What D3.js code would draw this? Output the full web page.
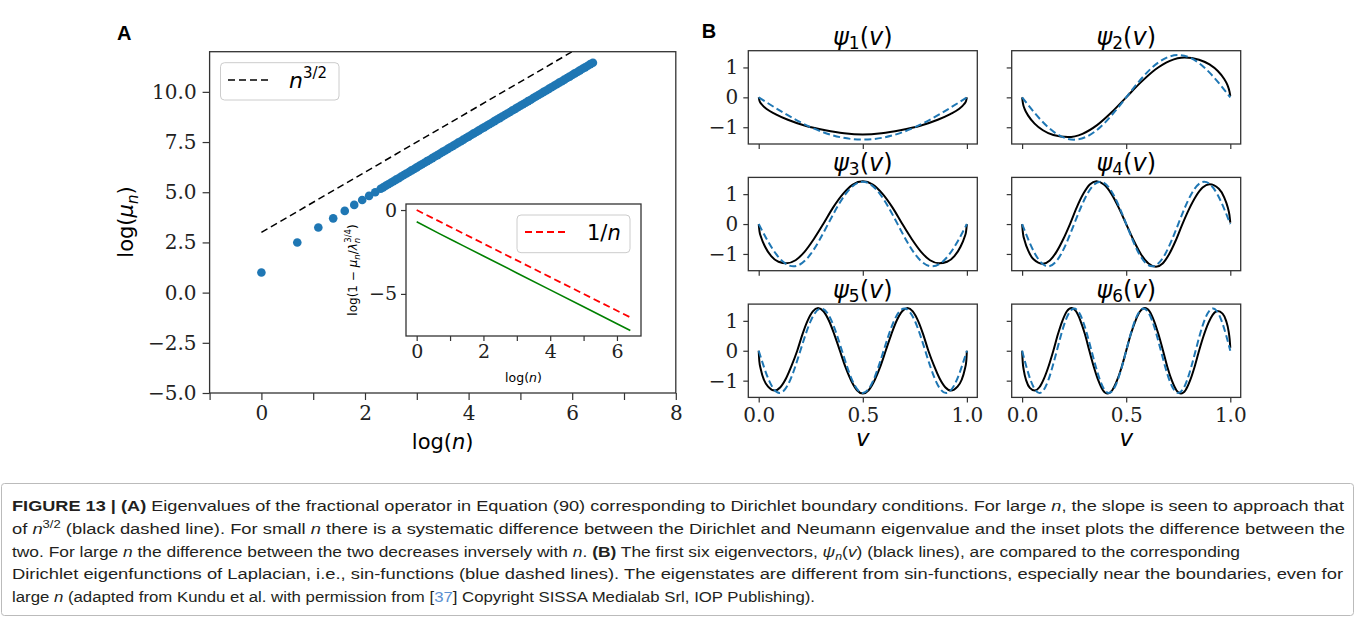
<!DOCTYPE html>
<html>
<head>
<meta charset="utf-8">
<script src="https://cdn.jsdelivr.net/npm/d3@7"></script>
<style>
body { margin: 0; background: #fff; }
.tick text { font-family: "DejaVu Serif", serif; fill: #222; }
.tick line { stroke: #333; stroke-width: 1.2; }
</style>
</head>
<body>
<script>
// ---- panel A : eigenvalues, log(mu_n) against log(n)
var mainLogN = [0, 0.693, 1.099, 1.386, 1.609, 1.792, 1.946, 2.079, 2.197, 2.303,
	2.35, 2.40, 2.45, 2.50, 2.55, 2.60, 2.65, 2.70, 2.75, 2.80, 2.85, 2.90, 2.95, 3.00,
	3.05, 3.10, 3.15, 3.20, 3.25, 3.30, 3.35, 3.40, 3.45, 3.50, 3.55, 3.60, 3.65, 3.70,
	3.75, 3.80, 3.85, 3.90, 3.95, 4.00, 4.05, 4.10, 4.15, 4.20, 4.25, 4.30, 4.35, 4.40,
	4.45, 4.50, 4.55, 4.60, 4.65, 4.70, 4.75, 4.80, 4.85, 4.90, 4.95, 5.00, 5.05, 5.10,
	5.15, 5.20, 5.25, 5.30, 5.35, 5.40, 5.45, 5.50, 5.55, 5.60, 5.65, 5.70, 5.75, 5.80,
	5.85, 5.90, 5.95, 6.00, 6.05, 6.10, 6.15, 6.20, 6.25, 6.30, 6.35, 6.40];
var mainLogMu = [1.0, 2.5, 3.24, 3.7, 4.07, 4.37, 4.61, 4.82, 5.0, 5.17,
	5.24, 5.32, 5.40, 5.47, 5.55, 5.63, 5.70, 5.78, 5.86, 5.93, 6.01, 6.09, 6.16, 6.24,
	6.32, 6.39, 6.47, 6.55, 6.62, 6.70, 6.78, 6.85, 6.93, 7.01, 7.08, 7.16, 7.24, 7.31,
	7.39, 7.47, 7.54, 7.62, 7.70, 7.77, 7.85, 7.93, 8.00, 8.08, 8.16, 8.23, 8.31, 8.39,
	8.46, 8.54, 8.62, 8.69, 8.77, 8.85, 8.92, 9.00, 9.08, 9.15, 9.23, 9.31, 9.38, 9.46,
	9.54, 9.61, 9.69, 9.77, 9.84, 9.92, 10.00, 10.07, 10.15, 10.23, 10.30, 10.38, 10.46, 10.53,
	10.61, 10.69, 10.76, 10.84, 10.92, 10.99, 11.07, 11.15, 11.22, 11.30, 11.38, 11.45];
var refLogN = [0, 6.4];          // n^{3/2} guide
var refLogMu = [3.0, 12.6];
var xTicksA = [-1, 0, 1, 2, 3, 4, 5, 6, 7, 8];
var yTicksA = [-5, -2.5, 0, 2.5, 5, 7.5, 10];

// ---- inset : log(1 - mu_n / lambda_n^{3/4})
var insetLogN = [0, 0.693, 1.099, 1.386, 2, 3, 4, 5, 6, 6.4];
var insetDiff = [-0.7, -1.42, -1.83, -2.12, -2.74, -3.75, -4.76, -5.77, -6.78, -7.18];
var invLogN = [0, 6.4];          // 1/n guide
var invVal = [0, -6.4];
var xTicksI = [0, 1, 2, 3, 4, 5, 6];
var yTicksI = [-5, 0];

// ---- panel B : eigenvectors (black) and sin functions (blue dashed)
var blue1 = [[0,0],[0.25,-1],[0.5,-1.414],[0.75,-1],[1,0]];
var blue2 = [[0,0],[0.125,-1],[0.25,-1.414],[0.375,-1],[0.5,0],[0.625,1],[0.75,1.414],[0.875,1],[1,0]];
var blue3 = [[0,0],[0.083,-1],[0.167,-1.414],[0.25,-1],[0.333,0],[0.417,1],[0.5,1.414],[0.583,1],
	[0.667,0],[0.75,-1],[0.833,-1.414],[0.917,-1],[1,0]];
var blue4 = [[0,0],[0.0625,-1],[0.125,-1.414],[0.1875,-1],[0.25,0],[0.3125,1],[0.375,1.414],[0.4375,1],
	[0.5,0],[0.5625,-1],[0.625,-1.414],[0.6875,-1],[0.75,0],[0.8125,1],[0.875,1.414],[0.9375,1],[1,0]];
var blue5 = [[0,0],[0.05,-1],[0.1,-1.414],[0.15,-1],[0.2,0],[0.25,1],[0.3,1.414],[0.35,1],[0.4,0],
	[0.45,-1],[0.5,-1.414],[0.55,-1],[0.6,0],[0.65,1],[0.7,1.414],[0.75,1],[0.8,0],[0.85,-1],
	[0.9,-1.414],[0.95,-1],[1,0]];
var blue6 = [[0,0],[0.0417,-1],[0.0833,-1.414],[0.125,-1],[0.1667,0],[0.2083,1],[0.25,1.414],[0.2917,1],
	[0.3333,0],[0.375,-1],[0.4167,-1.414],[0.4583,-1],[0.5,0],[0.5417,1],[0.5833,1.414],[0.625,1],
	[0.6667,0],[0.7083,-1],[0.75,-1.414],[0.7917,-1],[0.8333,0],[0.875,1],[0.9167,1.414],[0.9583,1],[1,0]];

var black1 = [[0,0],[0.004,-0.12],[0.015,-0.24],[0.04,-0.4],[0.08,-0.56],[0.14,-0.75],[0.22,-0.94],
	[0.32,-1.1],[0.41,-1.2],[0.5,-1.24],[0.59,-1.2],[0.68,-1.1],[0.78,-0.94],[0.86,-0.75],[0.92,-0.56],
	[0.96,-0.4],[0.985,-0.24],[0.996,-0.12],[1,0]];
var black2 = [[0,0],[0.004,-0.2],[0.013,-0.4],[0.03,-0.62],[0.06,-0.88],[0.1,-1.1],[0.15,-1.26],
	[0.22,-1.33],[0.29,-1.22],[0.36,-0.93],[0.43,-0.5],[0.5,0],[0.57,0.5],[0.64,0.93],[0.71,1.22],
	[0.78,1.33],[0.85,1.26],[0.9,1.1],[0.94,0.88],[0.97,0.62],[0.987,0.4],[0.996,0.2],[1,0.05]];
var black3 = [[0,0],[0.004,-0.25],[0.012,-0.45],[0.03,-0.75],[0.06,-1.07],[0.095,-1.26],[0.133,-1.31],
	[0.177,-1.21],[0.22,-0.93],[0.265,-0.5],[0.31,0],[0.357,0.55],[0.405,1.01],[0.452,1.32],[0.5,1.43],
	[0.548,1.32],[0.595,1.01],[0.643,0.55],[0.69,0],[0.735,-0.5],[0.78,-0.93],[0.823,-1.21],[0.867,-1.31],
	[0.905,-1.26],[0.94,-1.07],[0.97,-0.75],[0.988,-0.45],[0.996,-0.25],[1,0]];
var black4 = [[0,0],[0.004,-0.3],[0.012,-0.55],[0.03,-0.9],[0.055,-1.18],[0.1,-1.33],[0.133,-1.22],
	[0.165,-0.93],[0.198,-0.5],[0.23,0],[0.262,0.55],[0.294,1.01],[0.325,1.32],[0.357,1.43],[0.393,1.32],
	[0.429,1.01],[0.464,0.55],[0.5,0],[0.536,-0.55],[0.571,-1.01],[0.607,-1.32],[0.643,-1.43],[0.675,-1.32],
	[0.706,-1.01],[0.738,-0.55],[0.77,0],[0.802,0.5],[0.835,0.93],[0.867,1.22],[0.9,1.33],[0.945,1.18],
	[0.97,0.9],[0.988,0.55],[0.996,0.3],[1,0.05]];
var black5 = [[0,0],[0.003,-0.35],[0.01,-0.62],[0.025,-0.97],[0.045,-1.2],[0.077,-1.33],[0.104,-1.22],
	[0.131,-0.93],[0.158,-0.5],[0.185,0],[0.21,0.55],[0.235,1.01],[0.26,1.32],[0.285,1.43],[0.311,1.32],
	[0.337,1.01],[0.363,0.55],[0.39,0],[0.417,-0.55],[0.445,-1.01],[0.472,-1.32],[0.5,-1.43],[0.528,-1.32],
	[0.555,-1.01],[0.583,-0.55],[0.61,0],[0.637,0.55],[0.663,1.01],[0.689,1.32],[0.715,1.43],[0.74,1.32],
	[0.765,1.01],[0.79,0.55],[0.815,0],[0.842,-0.5],[0.869,-0.93],[0.896,-1.22],[0.923,-1.33],[0.955,-1.2],
	[0.975,-0.97],[0.99,-0.62],[0.997,-0.35],[1,0]];
var black6 = [[0,0],[0.003,-0.38],[0.008,-0.65],[0.02,-1.0],[0.037,-1.24],[0.061,-1.33],[0.083,-1.22],
	[0.105,-0.93],[0.128,-0.5],[0.15,0],[0.172,0.55],[0.194,1.01],[0.215,1.32],[0.237,1.43],[0.259,1.32],
	[0.28,1.01],[0.302,0.55],[0.323,0],[0.345,-0.55],[0.367,-1.01],[0.388,-1.32],[0.41,-1.43],[0.433,-1.32],
	[0.455,-1.01],[0.478,-0.55],[0.5,0],[0.522,0.55],[0.545,1.01],[0.567,1.32],[0.59,1.43],[0.612,1.32],
	[0.633,1.01],[0.655,0.55],[0.677,0],[0.698,-0.55],[0.72,-1.01],[0.741,-1.32],[0.763,-1.43],[0.785,-1.32],
	[0.806,-1.01],[0.828,-0.55],[0.85,0],[0.872,0.5],[0.895,0.93],[0.917,1.22],[0.939,1.33],[0.963,1.24],
	[0.98,1.0],[0.992,0.65],[0.997,0.38],[1,0.1]];
var blueSeries = [blue1, blue2, blue3, blue4, blue5, blue6];
var blackSeries = [black1, black2, black3, black4, black5, black6];
var xTicksB = [0, 0.5, 1];
var yTicksB = [-1, 0, 1];

// ---- caption (one array per printed line)
var captionLines = [
	[{t:'FIGURE 13 | (A)', b:1}, {t:' Eigenvalues of the fractional operator in Equation (90) corresponding to Dirichlet boundary conditions. For large '}, {t:'n', i:1}, {t:', the slope is seen to approach that'}],
	[{t:'of '}, {t:'n', i:1}, {t:'3/2', sup:1}, {t:' (black dashed line). For small '}, {t:'n', i:1}, {t:' there is a systematic difference between the Dirichlet and Neumann eigenvalue and the inset plots the difference between the'}],
	[{t:'two. For large '}, {t:'n', i:1}, {t:' the difference between the two decreases inversely with '}, {t:'n', i:1}, {t:'. '}, {t:'(B)', b:1}, {t:' The first six eigenvectors, '}, {t:'\u03c8', i:1}, {t:'n', i:1, sub:1}, {t:'('}, {t:'v', i:1}, {t:') (black lines), are compared to the corresponding'}],
	[{t:'Dirichlet eigenfunctions of Laplacian, i.e., sin-functions (blue dashed lines). The eigenstates are different from sin-functions, especially near the boundaries, even for'}],
	[{t:'large '}, {t:'n', i:1}, {t:' (adapted from Kundu et al. with permission from ['}, {t:'37', c:'#5b8fd0'}, {t:'] Copyright SISSA Medialab Srl, IOP Publishing).'}]
];
var captionEnds = [1344, 1345, 1240, 1343, 815];

var svg = d3.select('body').append('svg')
	.attr('width', 1356)
	.attr('height', 623)
	.style('font-family', '"DejaVu Sans", sans-serif');

var defs = svg.append('defs');
function clipRect(id, x, y, w, h) {
	defs.append('clipPath').attr('id', id)
		.append('rect').attr('x', x).attr('y', y).attr('width', w).attr('height', h);
	return 'url(#' + id + ')';
}
function styleAxis(g, size) {
	g.select('.domain').remove();
	g.selectAll('.tick text').style('font-size', size + 'px');
}
function frame(x, y, w, h) {
	svg.append('rect').attr('x', x).attr('y', y).attr('width', w).attr('height', h)
		.attr('fill', 'none').attr('stroke', '#333').attr('stroke-width', 1.3);
}

// ================= panel A =================
var A = { left: 209.6, right: 675.8, top: 51.7, bottom: 393 };
var xA = d3.scaleLinear().domain([-1, 8]).range([A.left, A.right]);
var yA = d3.scaleLinear().domain([-5, 12]).range([A.bottom, A.top]);
var clipA = clipRect('clipA', A.left, A.top, A.right - A.left, A.bottom - A.top);

svg.append('g').attr('transform', 'translate(0,' + A.bottom + ')')
	.call(d3.axisBottom(xA).tickValues(xTicksA)
		.tickFormat(function(d) { return d % 2 === 0 ? d : ''; })
		.tickSize(7).tickPadding(6))
	.call(styleAxis, 20);
svg.append('g').attr('transform', 'translate(' + A.left + ',0)')
	.call(d3.axisLeft(yA).tickValues(yTicksA).tickFormat(d3.format('.1f')).tickSize(7).tickPadding(6))
	.call(styleAxis, 20);

var line = d3.line();
svg.append('path')
	.attr('clip-path', clipA)
	.attr('d', line(refLogN.map(function(d, i) { return [xA(d), yA(refLogMu[i])]; })))
	.attr('fill', 'none').attr('stroke', '#000').attr('stroke-width', 1.5)
	.attr('stroke-dasharray', '7,4');

svg.append('g').attr('clip-path', clipA)
	.selectAll('circle')
	.data(mainLogN)
	.enter().append('circle')
	.attr('cx', function(d) { return xA(d); })
	.attr('cy', function(d, i) { return yA(mainLogMu[i]); })
	.attr('r', 4.3)
	.attr('fill', '#1f77b4');

frame(A.left, A.top, A.right - A.left, A.bottom - A.top);

// legend A
svg.append('rect').attr('x', 220.5).attr('y', 62.7).attr('width', 118.5).attr('height', 37.3)
	.attr('rx', 4).attr('fill', '#fff').attr('fill-opacity', 0.8).attr('stroke', '#ccc');
svg.append('line').attr('x1', 228).attr('x2', 272).attr('y1', 80).attr('y2', 80)
	.attr('stroke', '#000').attr('stroke-width', 1.5).attr('stroke-dasharray', '7,4');
var legA = svg.append('text').attr('x', 289).attr('y', 88).style('font-size', '22px');
legA.append('tspan').style('font-style', 'italic').text('n');
legA.append('tspan').attr('dy', -10).style('font-size', '15px').text('3/2');

svg.append('text').attr('x', 117).attr('y', 40).style('font-family', '"Liberation Sans", Arial, sans-serif')
	.style('font-weight', 'bold').style('font-size', '20px').text('A');

var ylabA = svg.append('text').attr('transform', 'translate(133,222) rotate(-90)')
	.attr('text-anchor', 'middle').style('font-size', '21px');
ylabA.append('tspan').text('log(');
ylabA.append('tspan').style('font-style', 'italic').text('\u03bc');
ylabA.append('tspan').attr('dy', 5).style('font-size', '15px').style('font-style', 'italic').text('n');
ylabA.append('tspan').attr('dy', -5).text(')');

var xlabA = svg.append('text').attr('x', (A.left + A.right) / 2).attr('y', 449)
	.attr('text-anchor', 'middle').style('font-size', '21px');
xlabA.append('tspan').text('log(');
xlabA.append('tspan').style('font-style', 'italic').text('n');
xlabA.append('tspan').text(')');

// ================= inset =================
var I = { left: 406, right: 641, top: 204, bottom: 336 };
var xI = d3.scaleLinear().domain([-0.32, 6.72]).range([I.left, I.right]);
var yI = d3.scaleLinear().domain([-7.51, 0.36]).range([I.bottom, I.top]);

svg.append('rect').attr('x', I.left).attr('y', I.top).attr('width', I.right - I.left)
	.attr('height', I.bottom - I.top).attr('fill', '#fff');
svg.append('g').attr('transform', 'translate(0,' + I.bottom + ')')
	.call(d3.axisBottom(xI).tickValues(xTicksI)
		.tickFormat(function(d) { return d % 2 === 0 ? d : ''; })
		.tickSize(5).tickPadding(4))
	.call(styleAxis, 19);
svg.append('g').attr('transform', 'translate(' + I.left + ',0)')
	.call(d3.axisLeft(yI).tickValues(yTicksI).tickFormat(d3.format('d')).tickSize(5).tickPadding(4))
	.call(styleAxis, 19);

svg.append('path')
	.attr('d', line(invLogN.map(function(d, i) { return [xI(d), yI(invVal[i])]; })))
	.attr('fill', 'none').attr('stroke', '#ff0000').attr('stroke-width', 1.8)
	.attr('stroke-dasharray', '7,4');
svg.append('path')
	.attr('d', line(insetLogN.map(function(d, i) { return [xI(d), yI(insetDiff[i])]; })))
	.attr('fill', 'none').attr('stroke', '#008000').attr('stroke-width', 1.6);
frame(I.left, I.top, I.right - I.left, I.bottom - I.top);

svg.append('rect').attr('x', 517).attr('y', 215).attr('width', 113).attr('height', 37.7)
	.attr('rx', 4).attr('fill', '#fff').attr('fill-opacity', 0.8).attr('stroke', '#ccc');
svg.append('line').attr('x1', 525).attr('x2', 568).attr('y1', 232).attr('y2', 232)
	.attr('stroke', '#ff0000').attr('stroke-width', 1.8).attr('stroke-dasharray', '7,4');
var legI = svg.append('text').attr('x', 587).attr('y', 240).style('font-size', '21px');
legI.append('tspan').text('1/');
legI.append('tspan').style('font-style', 'italic').text('n');

var ylabI = svg.append('text').attr('transform', 'translate(357,270) rotate(-90)')
	.attr('text-anchor', 'middle').style('font-size', '12px');
ylabI.append('tspan').text('log(1 \u2212 ');
ylabI.append('tspan').style('font-style', 'italic').text('\u03bc');
ylabI.append('tspan').attr('dy', 3).style('font-size', '8.5px').style('font-style', 'italic').text('n');
ylabI.append('tspan').attr('dy', -3).text('/');
ylabI.append('tspan').style('font-style', 'italic').text('\u03bb');
ylabI.append('tspan').attr('dy', 3).style('font-size', '8.5px').style('font-style', 'italic').text('n');
ylabI.append('tspan').attr('dx', -5).attr('dy', -9).style('font-size', '8.5px').text('3/4');
ylabI.append('tspan').attr('dy', 6).text(')');

var xlabI = svg.append('text').attr('x', (I.left + I.right) / 2).attr('y', 382)
	.attr('text-anchor', 'middle').style('font-size', '12.5px');
xlabI.append('tspan').text('log(');
xlabI.append('tspan').style('font-style', 'italic').text('n');
xlabI.append('tspan').text(')');

// ================= panel B =================
var colLeft = [748.3, 1011.7], colW = 229;
var rowTop = [50.7, 177.4, 304.1], rowH = 93.3;
var blueLine = d3.line().curve(d3.curveNatural);
var blackLine = d3.line().curve(d3.curveMonotoneX);

svg.append('text').attr('x', 701.7).attr('y', 38.3).style('font-family', '"Liberation Sans", Arial, sans-serif')
	.style('font-weight', 'bold').style('font-size', '20px').text('B');

blackSeries.forEach(function(blk, k) {
	var r = Math.floor(k / 2), c = k % 2;
	var x0 = colLeft[c], y0 = rowTop[r];
	var xB = d3.scaleLinear().domain([-0.05, 1.05]).range([x0, x0 + colW]);
	var yB = d3.scaleLinear().domain([-1.56, 1.56]).range([y0 + rowH, y0]);
	var clip = clipRect('clipB' + k, x0, y0, colW, rowH);

	var gx = svg.append('g').attr('transform', 'translate(0,' + (y0 + rowH) + ')')
		.call(d3.axisBottom(xB).tickValues(xTicksB).tickFormat(r === 2 ? d3.format('.1f') : '')
			.tickSize(5).tickPadding(5));
	styleAxis(gx, 20);
	var gy = svg.append('g').attr('transform', 'translate(' + x0 + ',0)')
		.call(d3.axisLeft(yB).tickValues(yTicksB).tickFormat(c === 0 ? d3.format('d') : '')
			.tickSize(5).tickPadding(5));
	styleAxis(gy, 20);

	svg.append('path').attr('clip-path', clip)
		.attr('d', blackLine(blk.map(function(p) { return [xB(p[0]), yB(p[1])]; })))
		.attr('fill', 'none').attr('stroke', '#000').attr('stroke-width', 2);
	svg.append('path').attr('clip-path', clip)
		.attr('d', blueLine(blueSeries[k].map(function(p) { return [xB(p[0]), yB(p[1])]; })))
		.attr('fill', 'none').attr('stroke', '#1f77b4').attr('stroke-width', 2)
		.attr('stroke-dasharray', '7,3.5');
	frame(x0, y0, colW, rowH);

	var title = svg.append('text').attr('x', x0 + colW / 2).attr('y', y0 - 6)
		.attr('text-anchor', 'middle').style('font-size', '24px');
	title.append('tspan').style('font-style', 'italic').text('\u03c8');
	title.append('tspan').attr('dy', 4).style('font-size', '17px').text(k + 1);
	title.append('tspan').attr('dy', -4).text('(');
	title.append('tspan').style('font-style', 'italic').text('v');
	title.append('tspan').text(')');

	if (r === 2) {
		svg.append('text').attr('x', xB(0.5)).attr('y', 446)
			.attr('text-anchor', 'middle').style('font-size', '23px').style('font-style', 'italic').text('v');
	}
});

// ================= caption =================
svg.append('rect').attr('x', 1.5).attr('y', 483.5).attr('width', 1352).attr('height', 132)
	.attr('rx', 3).attr('fill', 'none').attr('stroke', '#bbb').attr('stroke-width', 1);

var capBase = [511, 534, 556.5, 579, 601.5];
captionLines.forEach(function(segs, li) {
	var t = svg.append('text').attr('x', 12).attr('y', capBase[li])
		.style('font-family', '"Liberation Sans", Arial, sans-serif')
		.style('font-size', '15.5px').attr('fill', '#231f20');
	var shift = 0;
	segs.forEach(function(s) {
		var sp = t.append('tspan').text(s.t);
		if (s.b) sp.style('font-weight', 'bold');
		if (s.i) sp.style('font-style', 'italic');
		if (s.c) sp.attr('fill', s.c);
		var want = s.sup ? -6 : (s.sub ? 3 : 0);
		if (want !== shift) { sp.attr('dy', want - shift); shift = want; }
		if (s.sup || s.sub) sp.style('font-size', '11px');
	});
	t.attr('textLength', captionEnds[li] - 12).attr('lengthAdjust', 'spacingAndGlyphs');
});
</script>
</body>
</html>
